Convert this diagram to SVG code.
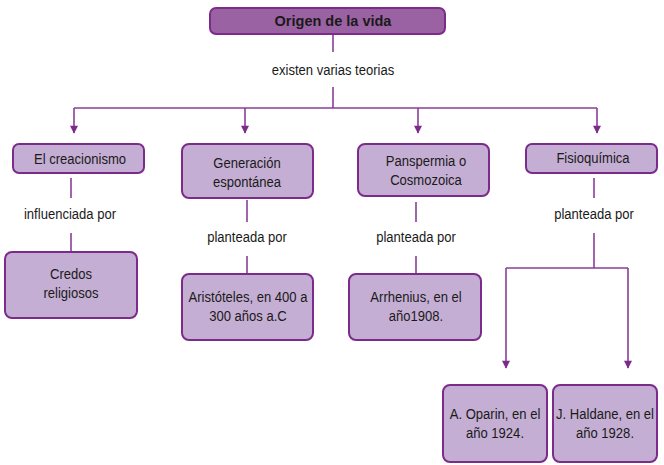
<svg xmlns="http://www.w3.org/2000/svg" width="664" height="465" viewBox="0 0 664 465">
<style>
.box{fill:#c5aed3;stroke:#7d2b8b;stroke-width:2}
.top{fill:#9a62a3;stroke:#7d2b8b;stroke-width:2}
.t{font-family:"Liberation Sans",Arial,sans-serif;font-size:15px;fill:#1a1a1a;text-anchor:middle}
.tb{font-family:"Liberation Sans",Arial,sans-serif;font-size:14.5px;font-weight:bold;fill:#1a1a1a;text-anchor:middle}
.c{fill:none;stroke:#8a3d98;stroke-width:1.6}
</style>
<defs>
<marker id="ah" viewBox="0 0 10 10" refX="9" refY="5" markerWidth="9" markerHeight="8" orient="auto" markerUnits="userSpaceOnUse">
<path d="M0,0L10,5L0,10z" fill="#7d2b8b"/>
</marker>
</defs>
<g id="connectors">
<path class="c" d="M333,34V52"/>
<path class="c" d="M333,87V108"/>
<path class="c" d="M74,108H597"/>
<path class="c" d="M74,108V133" marker-end="url(#ah)"/>
<path class="c" d="M245,108V133" marker-end="url(#ah)"/>
<path class="c" d="M418,108V133" marker-end="url(#ah)"/>
<path class="c" d="M597,108V133" marker-end="url(#ah)"/>
<path class="c" d="M71,178V198"/>
<path class="c" d="M71,233V251"/>
<path class="c" d="M247,200V222"/>
<path class="c" d="M247,256V273"/>
<path class="c" d="M416,202V222"/>
<path class="c" d="M416,256V273"/>
<path class="c" d="M594,178V198"/>
<path class="c" d="M594,233V268"/>
<path class="c" d="M506,268H628"/>
<path class="c" d="M506,268V368" marker-end="url(#ah)"/>
<path class="c" d="M628,268V368" marker-end="url(#ah)"/>
</g>
<g id="lbl-existen"><text class="t" transform="translate(333,75) scale(0.87,1)">existen varias teorias</text></g>
<g id="lbl-influenciada"><text class="t" transform="translate(70,219) scale(0.87,1)">influenciada por</text></g>
<g id="lbl-planteada1"><text class="t" transform="translate(247,242) scale(0.87,1)">planteada por</text></g>
<g id="lbl-planteada2"><text class="t" transform="translate(416,242) scale(0.87,1)">planteada por</text></g>
<g id="lbl-planteada3"><text class="t" transform="translate(594,219) scale(0.87,1)">planteada por</text></g>
<g id="n-origen"><rect class="top" x="210" y="8" width="235" height="26" rx="6"/><text class="tb" x="333" y="26">Origen de la vida</text></g>
<g id="n-creacionismo"><rect class="box" x="13" y="144" width="131" height="29" rx="6"/><text class="t" transform="translate(80,163.5) scale(0.87,1)">El creacionismo</text></g>
<g id="n-generacion"><rect class="box" x="182" y="144" width="131" height="54" rx="7"/><text class="t" transform="translate(247,168) scale(0.87,1)">Generación</text><text class="t" transform="translate(247,187) scale(0.87,1)">espontánea</text></g>
<g id="n-panspermia"><rect class="box" x="358" y="144" width="131" height="52" rx="7"/><text class="t" transform="translate(426,166) scale(0.87,1)">Panspermia o</text><text class="t" transform="translate(426,185) scale(0.87,1)">Cosmozoica</text></g>
<g id="n-fisioquimica"><rect class="box" x="526" y="144" width="131" height="29" rx="6"/><text class="t" transform="translate(593,163) scale(0.87,1)">Fisioquímica</text></g>
<g id="n-credos"><rect class="box" x="5" y="252" width="132" height="66" rx="7"/><text class="t" transform="translate(71,279) scale(0.87,1)">Credos</text><text class="t" transform="translate(71,298) scale(0.87,1)">religiosos</text></g>
<g id="n-aristoteles"><rect class="box" x="182" y="274" width="131" height="66" rx="7"/><text class="t" transform="translate(248,302) scale(0.87,1)">Aristóteles, en 400 a</text><text class="t" transform="translate(248,321) scale(0.87,1)">300 años a.C</text></g>
<g id="n-arrhenius"><rect class="box" x="349" y="274" width="132" height="66" rx="7"/><text class="t" transform="translate(416,302) scale(0.87,1)">Arrhenius, en el</text><text class="t" transform="translate(416,321) scale(0.87,1)">año1908.</text></g>
<g id="n-oparin"><rect class="box" x="443" y="385" width="104" height="77" rx="7"/><text class="t" transform="translate(495,419) scale(0.87,1)">A. Oparin, en el</text><text class="t" transform="translate(495,438) scale(0.87,1)">año 1924.</text></g>
<g id="n-haldane"><rect class="box" x="553" y="385" width="104" height="77" rx="7"/><text class="t" transform="translate(605,419) scale(0.87,1)">J. Haldane, en el</text><text class="t" transform="translate(605,438) scale(0.87,1)">año 1928.</text></g>
</svg>
